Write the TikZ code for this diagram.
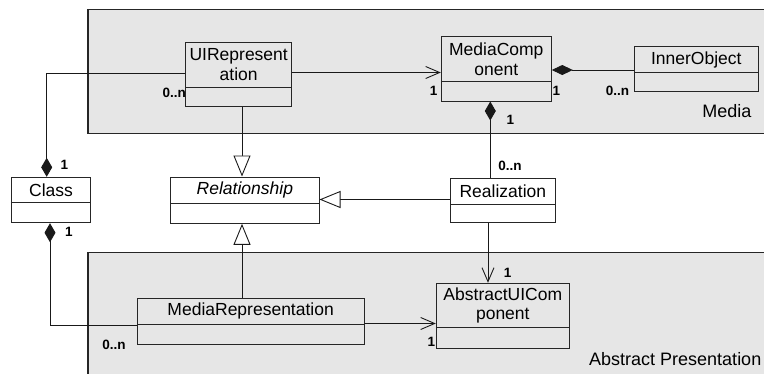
\documentclass[tikz,border=0pt]{standalone}
\usepackage{fontspec}
\setmainfont{Liberation Sans}
\usetikzlibrary{arrows.meta,fit}
\definecolor{pkggray}{RGB}{230,230,230}
\tikzset{
  pkg/.style={draw=black!85, fill=pkggray, line width=1.2pt},
  clsbox/.style={draw=black!85, line width=1pt, inner sep=0pt},
  clsline/.style={draw=black!85, line width=1pt},
  clstext/.style={font=\fontsize{17.5}{19.5}\selectfont, align=center, inner sep=0pt},
  pkgtext/.style={font=\fontsize{18}{20}\selectfont, inner sep=0pt},
  mult/.style={font=\fontsize{13.5}{15}\selectfont\bfseries, inner sep=0pt},
  conn/.style={draw=black!90, line width=0.9pt},
  comp/.style={{Diamond[length=19pt,width=11pt]}-},
  compend/.style={-{Diamond[length=19pt,width=11pt]}},
  nav/.style={-{Straight Barb[length=14pt,width=12pt,line width=0.9pt]}},
  gen/.style={-{Triangle[open,length=21pt,width=17pt,fill=white,line width=0.9pt]}}
}
\newcommand{\umlcls}[7]{%
  \node[clsbox, fit={(#2,#3) (#4,#6)}] (#1) {};
  \draw[clsline] (#1.west |- 0,#5) -- (#1.east |- 0,#5);
  \node[clstext] (#1-name) at ({(#2+#4)/2},{(#3+#5)/2}) {#7};
}
\begin{document}
\begin{tikzpicture}[x=1pt,y=-1pt]
\useasboundingbox (0,0) rectangle (764,373);
\fill[white] (0,0) rectangle (764,373);
\clip (0,0) rectangle (764,373);
% packages
\draw[pkg] (88,9.3) rectangle (790,133.3);
\draw[pkg] (88,252.7) rectangle (790,400);
\node[pkgtext, anchor=base east] (medialbl) at (751.7,117.7) {Media};
\node[pkgtext, anchor=base west] (abslbl) at (589,365.7) {Abstract Presentation};
% classes
\umlcls{uir}{185.7}{42}{291.7}{87.3}{106.7}{UIRepresent\\ation}
\umlcls{mc}{441.3}{36.7}{551.3}{81.7}{101}{MediaComp\\onent}
\umlcls{io}{634.3}{46.7}{758.3}{72.3}{91.7}{InnerObject}
\umlcls{cls}{11.3}{177.3}{90.7}{202.7}{222.7}{Class}
\umlcls{rel}{170.7}{177}{319}{203.3}{223.3}{\itshape Relationship}
\umlcls{real}{450.7}{178.7}{555}{204}{222}{Realization}
\umlcls{mr}{137.3}{298.3}{364}{324.3}{344}{MediaRepresentation}
\umlcls{auc}{436.3}{283.3}{569.3}{327.7}{348.3}{AbstractUICom\\ponent}
% connectors
\draw[conn, compend] (uir.west |- 0,73) -| (cls.north -| 46.7,0);
\draw[conn, nav] (uir.east |- 0,72.5) -- (mc.west |- 0,72.5);
\draw[conn, -{Diamond[length=21pt,width=10pt]}] (io.west |- 0,70) -- (mc.east |- 0,70);
\draw[conn, comp] (mc.south -| 490.3,0) -- (real.north -| 490.3,0);
\draw[conn, gen] (uir.south -| 242,0) -- (rel.north -| 242,0);
\draw[conn, gen] (real.west |- 0,199.5) -- (rel.east |- 0,199.5);
\draw[conn, nav] (real.south -| 488,0) -- (auc.north -| 488,0);
\draw[conn, gen] (mr.north -| 242,0) -- (rel.south -| 242,0);
\draw[conn, comp] (cls.south -| 50,0) |- (mr.west |- 0,325.7);
\draw[conn, nav] (mr.east |- 0,323.5) -- (auc.west |- 0,323.5);
% multiplicities
\node[mult] (m1) at (64.3,165) {1};
\node[mult, anchor=east] (m2) at (186,92.5) {0..n};
\node[mult] (m3) at (433.7,91) {1};
\node[mult] (m4) at (556.5,91) {1};
\node[mult] (m5) at (617.5,90.5) {0..n};
\node[mult] (m6) at (510.3,120) {1};
\node[mult] (m7) at (510,165.7) {0..n};
\node[mult] (m8) at (507.7,273.3) {1};
\node[mult] (m9) at (69,231.7) {1};
\node[mult] (m10) at (114,345) {0..n};
\node[mult] (m11) at (431.3,341.7) {1};
\end{tikzpicture}
\end{document}
